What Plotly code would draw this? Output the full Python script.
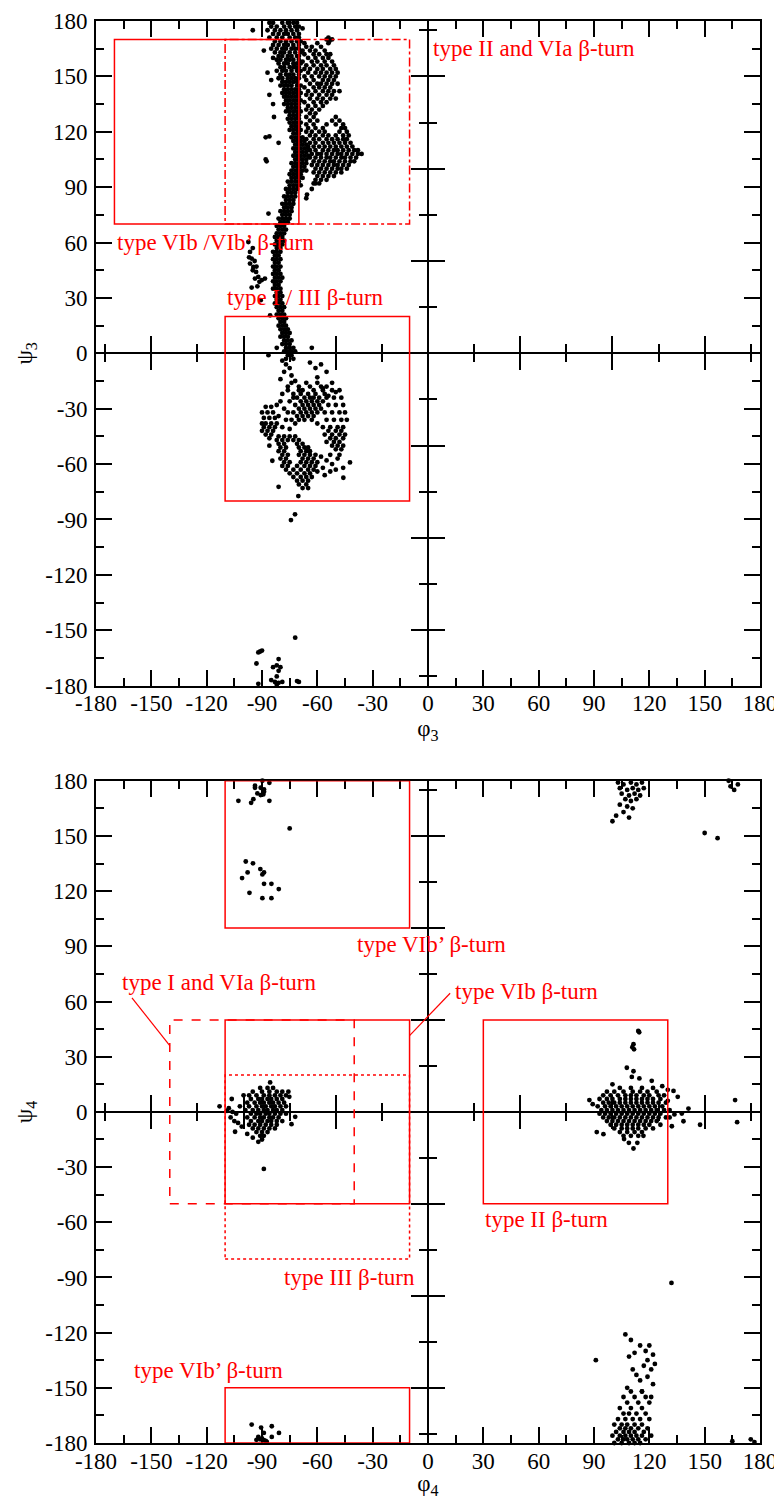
import plotly.graph_objects as go

# ---------------- DATA ----------------
# Panel 1 : phi3 / psi3.  Row lists are (psi, [phi values...])
p1_band_rows = [
    (179, [-86, -84, -79, -76, -73, -71]), (177, [-85, -82, -78, -75, -72, -70]),
    (175, [-87, -83, -80, -77, -74, -71]), (173, [-84, -81, -78, -76, -73, -70]),
    (171, [-86, -82, -79, -75, -72, -70]), (169, [-83, -80, -77, -74, -71, -69]),
    (167, [-84, -81, -78, -76, -73, -70]), (165, [-82, -79, -77, -74, -72, -70]),
    (163, [-83, -80, -78, -75, -72, -69]), (161, [-81, -79, -76, -74, -71, -70]),
    (159, [-82, -80, -77, -75, -73, -70]), (157, [-81, -78, -76, -73, -71, -69]),
    (155, [-80, -78, -75, -73, -72, -70]), (153, [-82, -79, -77, -74, -71, -69]),
    (151, [-80, -77, -75, -73, -70]), (149, [-81, -79, -76, -74, -72, -70]),
    (147, [-79, -77, -75, -73, -71]), (145, [-80, -78, -76, -74, -71, -69]),
    (143, [-78, -76, -74, -72, -70]), (141, [-79, -77, -75, -73, -71, -69]),
    (139, [-78, -76, -74, -72, -70]), (137, [-77, -75, -73, -71, -69]),
    (135, [-78, -76, -74, -72, -70]), (133, [-76, -74, -72, -70]),
    (131, [-77, -75, -73, -71, -69]), (129, [-75, -73, -71, -70]),
    (127, [-76, -74, -72, -70]), (125, [-75, -73, -71, -69]),
    (123, [-74, -72, -70]), (121, [-75, -73, -71, -69]),
    (119, [-73, -71, -70]), (117, [-74, -72, -70, -68]),
    (115, [-73, -71, -69, -67]), (113, [-72, -70, -68, -66]),
    (111, [-73, -71, -69, -67, -65]), (109, [-72, -70, -68, -66]),
    (107, [-73, -71, -69, -67, -65]), (105, [-72, -70, -68, -66]),
    (103, [-74, -72, -70, -68, -66]), (101, [-73, -71, -69, -67]),
    (99, [-74, -72, -70, -68, -66]), (97, [-75, -73, -71, -69]),
    (95, [-74, -72, -70, -68]), (93, [-76, -74, -72, -70]),
    (91, [-75, -73, -71, -69]), (89, [-77, -75, -73, -71]),
    (87, [-76, -74, -72]), (85, [-78, -76, -74, -72]),
    (83, [-77, -75, -73]), (81, [-79, -77, -75, -73]),
    (79, [-78, -76, -74]), (77, [-80, -78, -76, -74]),
    (75, [-79, -77, -75]), (73, [-81, -79, -77, -75]),
    (71, [-80, -78, -76]), (69, [-82, -80, -78]),
    (67, [-81, -79, -77]), (65, [-82, -80, -78]),
    (63, [-83, -81, -79]), (61, [-82, -80, -78]),
    (59, [-83, -81, -79]), (57, [-82, -80]),
    (55, [-84, -82, -80]), (53, [-83, -81]),
    (51, [-84, -82, -80]), (49, [-83, -81]),
    (47, [-84, -82, -80]), (45, [-83, -81]),
    (43, [-84, -82, -80]), (41, [-83, -81, -79]),
    (39, [-84, -82, -80]), (37, [-83, -81]),
    (35, [-84, -82, -80]), (33, [-82, -80]),
    (31, [-83, -81, -79]), (29, [-82, -80]),
    (27, [-83, -81, -79]), (25, [-82, -80, -78]),
    (23, [-81, -79]), (21, [-82, -80, -78]),
    (19, [-81, -79, -77]), (17, [-80, -78]),
    (15, [-81, -79, -77]), (13, [-80, -78, -76]),
    (11, [-79, -77, -75]), (9, [-80, -78, -76]),
    (7, [-78, -76, -74]), (5, [-79, -77, -75]),
    (3, [-77, -75, -73]), (1, [-78, -76, -74, -72]),
    (-1, [-76, -74]), (-3, [-77, -73]),
]

p1_upper_lobe_rows = [
    (170, [-55, -52]), (168, [-67, -60, -54]), (166, [-66, -63, -58]),
    (164, [-68, -64, -61, -56]), (162, [-67, -62, -59, -55, -53]),
    (160, [-65, -61, -57, -54]), (158, [-68, -63, -60, -56, -52]),
    (156, [-66, -62, -58, -55, -51]), (154, [-67, -64, -60, -57, -53, -50]),
    (152, [-65, -61, -58, -55, -52, -49]), (150, [-67, -63, -59, -56, -53, -50]),
    (148, [-66, -62, -57, -54, -51]), (146, [-64, -60, -58, -55, -52, -49]),
    (144, [-67, -62, -59, -56, -53]), (142, [-65, -61, -57, -54, -51, -48]),
    (140, [-66, -63, -59, -55, -52]), (138, [-64, -60, -57, -53, -50]),
    (136, [-67, -62, -58, -55]), (134, [-65, -61, -57]),
    (132, [-66, -63, -59]), (130, [-64, -61]),
]

p1_lower_lobe_rows = [
    (128, [-66, -62, -50]), (126, [-64, -60, -52, -48]),
    (124, [-66, -62, -55, -50, -46]), (122, [-65, -61, -57, -47, -45]),
    (120, [-66, -63, -59, -56, -48, -44]), (118, [-64, -61, -57, -54, -50, -46, -43]),
    (116, [-66, -62, -59, -55, -52, -49, -46, -44]),
    (114, [-64, -61, -57, -54, -51, -48, -45, -42]),
    (112, [-65, -62, -59, -56, -53, -50, -47, -44, -41]),
    (110, [-64, -61, -57, -54, -51, -49, -46, -43, -40, -38]),
    (108, [-63, -60, -58, -55, -52, -49, -47, -44, -41, -38, -36]),
    (106, [-64, -61, -58, -55, -53, -50, -47, -45, -42, -39]),
    (104, [-62, -59, -56, -53, -51, -48, -45, -42, -40]),
    (102, [-63, -60, -57, -54, -51, -49, -46, -43]),
    (100, [-61, -58, -55, -52, -49, -47, -44]),
    (98, [-62, -59, -56, -53, -50, -47]), (96, [-60, -57, -54, -51]),
    (94, [-61, -58, -55]), (92, [-62, -59]),
]

p1_ring_rows = [
    # upper arm
    (-16, [-74, -66, -60]), (-18, [-70, -64, -58, -55]), (-20, [-76, -68, -62, -57, -52, -48]),
    (-22, [-73, -69, -65, -61, -56]), (-24, [-71, -67, -64, -62, -59, -55, -51, -47]),
    (-26, [-75, -69, -66, -63, -60, -57, -80]), (-28, [-72, -68, -65, -62, -59, -54, -50, -46, -82]),
    (-30, [-70, -67, -64, -61, -58, -78]), (-32, [-73, -69, -66, -63, -60, -56, -52, -48, -45, -76]),
    (-34, [-71, -68, -65, -62, -81]), (-36, [-74, -70, -67, -63, -55, -51, -47, -44, -77]),
    (-38, [-72, -60]), (-40, [-57, -53, -49, -46, -79]), (-41, [-75]),
    (-42, [-54, -50, -47]), (-44, [-56, -52, -48, -45]), (-46, [-53, -50, -46]),
    (-48, [-55, -51, -48]), (-50, [-52, -49, -46]), (-52, [-50, -47]), (-55, [-53, -48]),
    # left blob
    (-29, [-88, -85]), (-32, [-90, -87, -84]), (-35, [-89, -86, -83]),
    (-38, [-90, -88, -85, -82]), (-40, [-89, -86, -83]), (-42, [-90, -87, -84]),
    (-44, [-88, -85]), (-46, [-86]),
    # lower arc
    (-45, [-81, -78, -75, -72]), (-47, [-82, -79, -76, -73, -70]),
    (-49, [-81, -78, -71, -68]), (-51, [-80, -77, -70, -67, -65]),
    (-53, [-81, -78, -69, -66, -64]), (-55, [-79, -76, -70, -67, -64, -61]),
    (-57, [-80, -77, -68, -65, -62]), (-59, [-78, -75, -69, -66, -63, -60]),
    (-61, [-79, -76, -71, -67, -64, -61]), (-63, [-77, -73, -69, -65, -62]),
    (-65, [-75, -71, -67, -64]), (-67, [-73, -69, -66, -63]),
    (-69, [-71, -68, -65]), (-71, [-70, -66]), (-73, [-68, -65]),
]

p1_scatter = [
    (-88, 117), (-86, 117.5), (-81, 114), (-88, 105), (-87.5, 104), (-85, 148),
    (-83.5, 128), (-89, 164), (-95, 175), (-68, 176), (-54, 171), (-53.5, 169),
    (-65.6, 86), (-61, 92), (-63, 89), (-66, 84), (-86.5, 75.7), (-84, 160),
    (-85, 165), (-87, 152), (-86, 140), (-84, 135),
    (-97.4, 60.3), (-96.5, 54.9), (-95.6, 51.3), (-96.5, 48.6), (-94.7, 46.8),
    (-93.2, 44.1), (-92, 41.4), (-91.4, 38.7), (-90.2, 39.6), (-93.8, 40.5),
    (-92.5, 36.3), (-95, 57), (-97, 52), (-94, 50), (-95, 45), (-93, 47),
    (-88.4, 40.5), (-95.6, 35.6), (-90.7, 28.8), (-85.6, 20.6),
    (-86.5, -1), (-82, 3), (-63, 3), (-79, -4), (-77, -6), (-75, -8), (-78, -10),
    (-74, -12), (-80, -14), (-72, -15), (-76, -18), (-70, -20), (-79, -22),
    (-73, -24), (-64, -5), (-61, -8), (-58, -6), (-55, -10), (-60, -13),
    (-52, -16), (-57, -19), (-50, -21), (-54, -23),
    (-58, -56), (-55, -58), (-52, -60), (-49, -57), (-46, -62), (-57, -62),
    (-53, -64), (-50, -63), (-45.9, -67.4), (-42.3, -59.1), (-56, -66), (-60, -64),
    (-81, -72.3), (-70.3, -77.3), (-72.1, -87.2), (-74.3, -90.3), (-84.4, -58.2), (-86, -50),
    (-92, -162), (-91, -161.5), (-90, -161), (-93, -168), (-92, -179), (-81, -165.6),
    (-82, -169), (-80, -170), (-84, -170), (-81, -172), (-85, -177), (-83, -178),
    (-81, -178.5), (-79, -178), (-82, -179.5), (-72, -154), (-71, -177.5), (-70, -178),
    (-82, -175),
]

# Panel 2 : phi4 / psi4
p2_left_rows = [
    (13, [-91, -87, -84]), (11, [-95, -90, -86, -82, -79]),
    (9, [-97, -93, -89, -86, -83, -80, -77]), (7, [-96, -92, -90, -87, -85, -82, -79]),
    (5, [-98, -94, -91, -89, -86, -84, -81, -78]), (3, [-97, -93, -90, -88, -85, -83, -80, -77]),
    (1, [-99, -95, -92, -89, -87, -84, -82, -79]), (-1, [-96, -93, -91, -88, -86, -83, -80, -77]),
    (-3, [-98, -94, -91, -89, -86, -84, -81]), (-5, [-96, -92, -90, -87, -85, -82, -79]),
    (-7, [-97, -94, -91, -88, -85, -82]), (-9, [-95, -92, -89, -86, -83]),
    (-11, [-93, -90, -87]), (-13, [-91, -89]),
]

p2_right_rows = [
    (13, [104, 110, 116, 122]), (11, [97, 101, 106, 111, 115, 119, 124]),
    (9, [95, 99, 103, 107, 110, 113, 117, 120, 125, 128]),
    (7, [93, 97, 100, 104, 107, 110, 113, 116, 119, 122, 126]),
    (5, [95, 98, 101, 104, 107, 110, 113, 116, 119, 122, 125, 129]),
    (3, [92, 96, 99, 102, 105, 108, 111, 114, 117, 120, 123, 127]),
    (1, [94, 97, 100, 103, 106, 109, 112, 115, 118, 121, 124, 128, 131]),
    (-1, [93, 96, 99, 102, 105, 108, 111, 114, 117, 120, 123, 126]),
    (-3, [95, 98, 101, 104, 107, 110, 113, 116, 119, 122, 125, 129]),
    (-5, [97, 100, 103, 106, 109, 112, 115, 118, 121, 124]),
    (-7, [99, 102, 105, 108, 111, 114, 117, 120, 126]),
    (-9, [101, 105, 108, 111, 114, 118, 122]),
    (-11, [104, 108, 112, 116]), (-13, [106, 110, 114]),
]

p2_bottom_right_rows = [
    (-152, [110, 116]), (-155, [106, 112, 118]), (-158, [108, 114, 120]),
    (-161, [104, 110, 116]), (-164, [106, 109, 113, 118]),
    (-167, [103, 107, 111, 115, 120]), (-170, [101, 105, 108, 112, 116]),
    (-172, [104, 107, 110, 114, 119]), (-174, [102, 106, 109, 112, 117]),
    (-176, [100, 104, 107, 110, 113, 116, 121]), (-178, [103, 106, 108, 111, 114, 118]),
    (-180, [101, 105, 109, 112, 115]),
]

p2_scatter = [
    (-108, 2), (-106, 0), (-104, -1), (-107, -3), (-105, -5), (-103, -6), (-109, 0.5),
    (-102, 3), (-113, 3), (-89, -31), (-85.6, 16), (-72, -2.7), (-74, -6.7),
    (-104.6, -10.8), (-92, -16.3), (-75.7, 11), (-75.2, 8.2), (-106.4, 7), (-100, 9),
    (-101, -8), (-98, -12), (-95, -14), (-90, -15),
    (114, 44), (114.5, 43.3), (111.4, 36.8), (110.8, 35.2), (111.7, 34), (107.8, 24),
    (111.4, 22.1), (110.5, 19), (114.6, 18.2), (121.3, 16.9), (133.1, 11.4),
    (135.4, 8.2), (141.2, 1.8), (137.6, -0.9), (138.5, -5.1), (132.2, -7.8),
    (133.6, -1.4), (91.5, -11), (95.1, -12.1), (106.3, -14.8), (111.4, -19.9),
    (113.5, -16.8), (108.9, -16.8), (116.8, -13), (89.3, 4.2), (87.5, 6.4),
    (166.5, 6.4), (167.6, -5.6), (147.5, -7), (130, 12), (127, 14), (100, 15),
    (131, -3), (130, 6),
    # top right
    (103, 179), (106, 178), (110, 179), (113, 178), (116, 179), (104, 176), (108, 175),
    (111, 176), (114, 175), (117, 176), (105, 173), (109, 172), (112, 173), (115, 172),
    (107, 170), (110, 169), (113, 170), (104, 167), (108, 166), (111, 165), (106, 163),
    (102, 161), (109, 160), (100, 158), (150, 151.6), (157, 148.8), (164, 177),
    (166, 175), (168, 178), (163, 180),
    # bottom right streak
    (132, -93), (107, -121), (110, -124), (115, -127), (119, -135), (120, -127),
    (121, -140), (115, -146), (108, -150), (91, -135), (112, -131), (117, -138),
    (113, -143), (122, -132), (118, -130), (123, -137), (119, -144), (122, -148),
    (116, -152), (121, -155), (111, -140), (109, -133), (175, -178), (177, -179.5),
    (165, -179),
    # top left
    (-89.8, 180), (-86, 178.9), (-93.8, 177.3), (-93.8, 176.2), (-90.7, 176.2),
    (-88.9, 175.3), (-88.9, 174), (-92.5, 173.1), (-90.7, 172.2), (-89.3, 172.6),
    (-94.7, 170), (-95.9, 168), (-102.8, 169.1), (-86, 169.1), (-75, 154.1),
    (-98.8, 136.1), (-94.9, 135.1), (-90.9, 132), (-88.9, 130.2), (-89.8, 129.1),
    (-97.8, 130.2), (-100.8, 127.1), (-88.9, 124), (-84.9, 124), (-80.9, 121.1),
    (-96.8, 119.1), (-89.8, 116.2), (-84.9, 116.2),
    # bottom left
    (-95.6, -170), (-90.5, -171.6), (-84.7, -170.9), (-80.8, -174.5), (-84.7, -176.7),
    (-92, -176.7), (-90, -177.5), (-89, -178.5), (-88, -178.8), (-91, -178),
    (-93, -178.3), (-87.4, -179.4), (-89, -174.5),
]

# Boxes (phi_min, phi_max, psi_min, psi_max)
p1_boxes = [(-110, -10, 70, 170), (-170, -70, 70, 170), (-110, -10, -80, 20)]
p1_box_dash = ["dashdot", "solid", "solid"]
p2_boxes = [(-110, -10, -80, 20), (-140, -40, -50, 50), (-110, -10, -50, 50),
            (-110, -10, 100, 180), (-110, -10, -180, -150), (30, 130, -50, 50)]
p2_box_dash = ["dot", "dash", "solid", "solid", "solid", "solid"]

# Labels (text, phi, psi)
p1_labels = [("type II and VIa β-turn", 1.7, 165), ("type VIb /VIb’ β-turn", -169.7, 60),
             ("type I / III β-turn", -110, 30)]
p2_labels = [("type VIb’ β-turn", -39.5, 91), ("type I and VIa β-turn", -167, 70.5),
             ("type VIb β-turn", 13.6, 65.7), ("type II β-turn", 29.9, -58.3),
             ("type III β-turn", -79, -90), ("type VIb’ β-turn", -160.5, -140.5)]
# Leader lines (phi0, psi0, phi1, psi1)
p2_leaders = [(-160.5, 62, -140, 36), (12, 64.5, -10, 41.5)]

major_ticks = [-180, -150, -120, -90, -60, -30, 0, 30, 60, 90, 120, 150, 180]
major_tick_labels = ["-180", "-150", "-120", "-90", "-60", "-30", "0",
                     "30", "60", "90", "120", "150", "180"]

# ---------------- BUILD ----------------
def flatten(rows):
    xs, ys = [], []
    for psi, phis in rows:
        for ph in phis:
            xs.append(ph)
            ys.append(psi)
    return xs, ys


def pairs(lst):
    return [p[0] for p in lst], [p[1] for p in lst]


FONT = "Liberation Serif"
RED = "#ff0000"
FS = 23
marker = dict(symbol="circle", size=4.8, color="black", line=dict(width=0))

fig = go.Figure()

p1_x, p1_y = [], []
for rows in (p1_band_rows, p1_upper_lobe_rows, p1_lower_lobe_rows, p1_ring_rows):
    a, b = flatten(rows)
    p1_x += a
    p1_y += b
a, b = pairs(p1_scatter)
p1_x += a
p1_y += b

p2_x, p2_y = [], []
for rows in (p2_left_rows, p2_right_rows, p2_bottom_right_rows):
    a, b = flatten(rows)
    p2_x += a
    p2_y += b
a, b = pairs(p2_scatter)
p2_x += a
p2_y += b

fig.add_trace(go.Scatter(x=p1_x, y=p1_y, mode="markers", marker=marker, cliponaxis=False,
                         xaxis="x", yaxis="y", hoverinfo="skip"))
fig.add_trace(go.Scatter(x=p2_x, y=p2_y, mode="markers", marker=marker, cliponaxis=False,
                         xaxis="x2", yaxis="y2", hoverinfo="skip"))

# the page body adds an 8 px offset, so the figure is 8 px smaller on each side
dom1 = [0.5326, 1.0]
dom2 = [0.0, 0.4657]

title_font = dict(family=FONT, size=FS, color="black")
base_axis = dict(range=[-180, 180], tickmode="array", tickvals=major_ticks,
                 ticktext=major_tick_labels,
                 showline=True, linewidth=2, linecolor="black", mirror="ticks",
                 ticks="inside", ticklen=16, tickwidth=1.5, tickcolor="black",
                 minor=dict(dtick=15, tick0=-180, ticks="inside", ticklen=8, tickwidth=1.5,
                            tickcolor="black"),
                 showgrid=False, zeroline=False, automargin=False,
                 tickfont=dict(family=FONT, size=FS, color="black"))

fig.update_layout(
    width=774, height=1491, margin=dict(l=88, r=22, t=13, b=56),
    plot_bgcolor="white", paper_bgcolor="white", showlegend=False,
    xaxis=dict(base_axis, domain=[0, 1], anchor="y", ticklabelstandoff=-4,
               title=dict(text="φ<sub>3</sub>", font=title_font, standoff=2)),
    yaxis=dict(base_axis, domain=dom1, anchor="x", ticklabelstandoff=2,
               title=dict(text="ψ<sub>3</sub>", font=title_font, standoff=6)),
    xaxis2=dict(base_axis, domain=[0, 1], anchor="y2", ticklabelstandoff=-4,
                title=dict(text="φ<sub>4</sub>", font=title_font, standoff=2)),
    yaxis2=dict(base_axis, domain=dom2, anchor="x2", ticklabelstandoff=2,
                title=dict(text="ψ<sub>4</sub>", font=title_font, standoff=6)),
)

# zero axes (line through the origin with ticks on both sides)
zero_axis = dict(range=[-180, 180], tick0=0, dtick=50, showline=True, linewidth=2,
                 linecolor="black", ticklen=16, tickwidth=1.5, tickcolor="black",
                 showticklabels=False, showgrid=False, zeroline=False, automargin=False)
n = 3
for (xa, ya, dom) in (("x", "y", dom1), ("x2", "y2", dom2)):
    for side in ("inside", "outside"):
        xname, yname = f"xaxis{n}", f"yaxis{n}"
        fig.update_layout(**{
            xname: dict(zero_axis, overlaying=xa, anchor="free", position=(dom[0] + dom[1]) / 2,
                        domain=[0, 1], ticks=side,
                        minor=dict(dtick=25, tick0=0, ticks=side, ticklen=8, tickwidth=1.5,
                                   tickcolor="black")),
            yname: dict(zero_axis, overlaying=ya, anchor="free", position=0.5, domain=dom,
                        ticks=side,
                        minor=dict(dtick=25, tick0=0, ticks=side, ticklen=8, tickwidth=1.5,
                                   tickcolor="black")),
        })
        fig.add_trace(go.Scatter(x=[0], y=[0], mode="markers", marker=dict(opacity=0),
                                 xaxis=f"x{n}", yaxis=ya, hoverinfo="skip"))
        fig.add_trace(go.Scatter(x=[0], y=[0], mode="markers", marker=dict(opacity=0),
                                 xaxis=xa, yaxis=f"y{n}", hoverinfo="skip"))
        n += 1

# boxes
for (x0, x1, y0, y1), dash in zip(p1_boxes, p1_box_dash):
    fig.add_shape(type="rect", xref="x", yref="y", x0=x0, x1=x1, y0=y0, y1=y1,
                  line=dict(color=RED, width=1.5, dash=dash))
for (x0, x1, y0, y1), dash in zip(p2_boxes, p2_box_dash):
    fig.add_shape(type="rect", xref="x2", yref="y2", x0=x0, x1=x1, y0=y0, y1=y1,
                  line=dict(color=RED, width=1.5, dash=dash))
for (x0, y0, x1, y1) in p2_leaders:
    fig.add_shape(type="line", xref="x2", yref="y2", x0=x0, y0=y0, x1=x1, y1=y1,
                  line=dict(color=RED, width=1.2))

for text, xv, yv in p1_labels:
    fig.add_annotation(text=text, x=xv, y=yv, xref="x", yref="y", showarrow=False,
                       xanchor="left", yanchor="middle",
                       font=dict(family=FONT, size=FS, color=RED))
for text, xv, yv in p2_labels:
    fig.add_annotation(text=text, x=xv, y=yv, xref="x2", yref="y2", showarrow=False,
                       xanchor="left", yanchor="middle",
                       font=dict(family=FONT, size=FS, color=RED))

fig.write_html("out.html")
